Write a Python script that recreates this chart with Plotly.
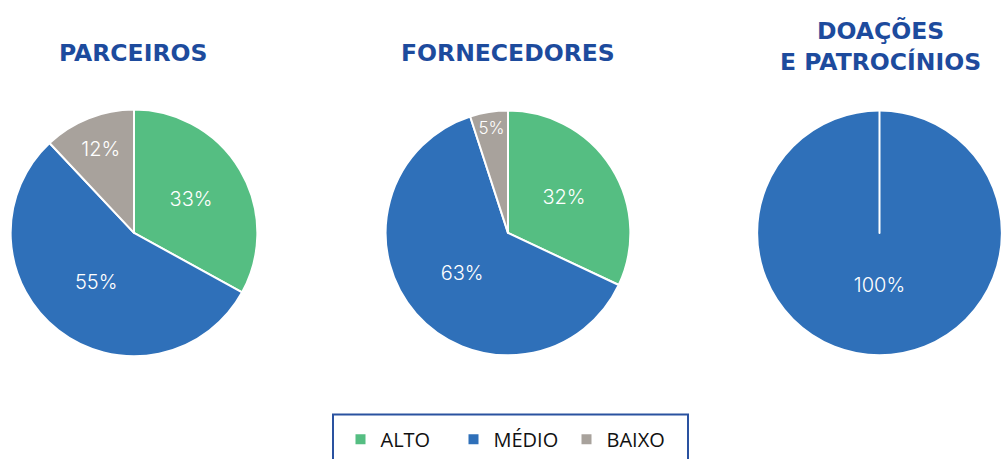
import plotly.graph_objects as go

categories = ["ALTO", "MÉDIO", "BAIXO"]
parceiros = [33, 55, 12]
fornecedores = [32, 63, 5]
doacoes = [0, 100, 0]
titles = ["PARCEIROS", "FORNECEDORES", "DOAÇÕES<br>E PATROCÍNIOS"]

colors = ["#55be82", "#2f70b9", "#a8a29c"]
W, H = 1003, 459

def dom(cx, cy, r):
    return dict(x=[max(0, (cx - r) / W), min(1, (cx + r) / W)],
                y=[max(0, 1 - (cy + r) / H), min(1, 1 - (cy - r) / H)])

fig = go.Figure()
specs = [(parceiros, 134, 236, 125, "%{percent:.0%}"),
         (fornecedores, 508, 236, 124, "%{percent:.0%}"),
         (doacoes, 880, 236, 124, "\u00a0<br>\u00a0<br>\u00a0<br>\u00a0<br>%{percent:.0%}")]
for i, (vals, cx, cy, r, tt) in enumerate(specs):
    fig.add_trace(go.Pie(
        labels=categories, values=vals, sort=False, direction="clockwise", rotation=0,
        marker=dict(colors=colors, line=dict(color="white", width=2)),
        texttemplate=tt, textposition="inside",
        insidetextorientation="horizontal",
        textfont=dict(color="white", size=20, family="Inter", weight=300),
        domain=dom(cx, cy, r), showlegend=(i == 0), hoverinfo="label+percent",
    ))

title_pos = [(133, 54), (508, 54), (880, 47)]
for t, (x, y) in zip(titles, title_pos):
    fig.add_annotation(text=t, x=x / W, y=1 - y / H, xref="paper", yref="paper",
                       showarrow=False, xanchor="center", yanchor="middle",
                       font=dict(family="DejaVu Sans", size=23.5, color="#1d4b9d", weight="bold"))

# legend frame (bottom edge runs past the page)
fig.add_shape(type="rect", xref="paper", yref="paper",
              x0=333 / W, x1=688 / W, y0=-0.2, y1=1 - 420 / H,
              line=dict(color="#2a52a0", width=2), fillcolor="rgba(0,0,0,0)", layer="above")

fig.update_layout(
    width=W, height=H, margin=dict(l=0, r=0, t=0, b=0),
    paper_bgcolor="white", plot_bgcolor="white",
    legend=dict(orientation="h", x=510 / W, y=1 - 445 / H, xanchor="center", yanchor="middle",
                font=dict(family="Open Sans", size=20, color="#111111"),
                borderwidth=0, bgcolor="rgba(0,0,0,0)",
                itemwidth=30, entrywidth=68, traceorder="normal"),
)
fig.write_html("out.html", config={"displayModeBar": False},
               post_script="document.body.style.margin='0';")
